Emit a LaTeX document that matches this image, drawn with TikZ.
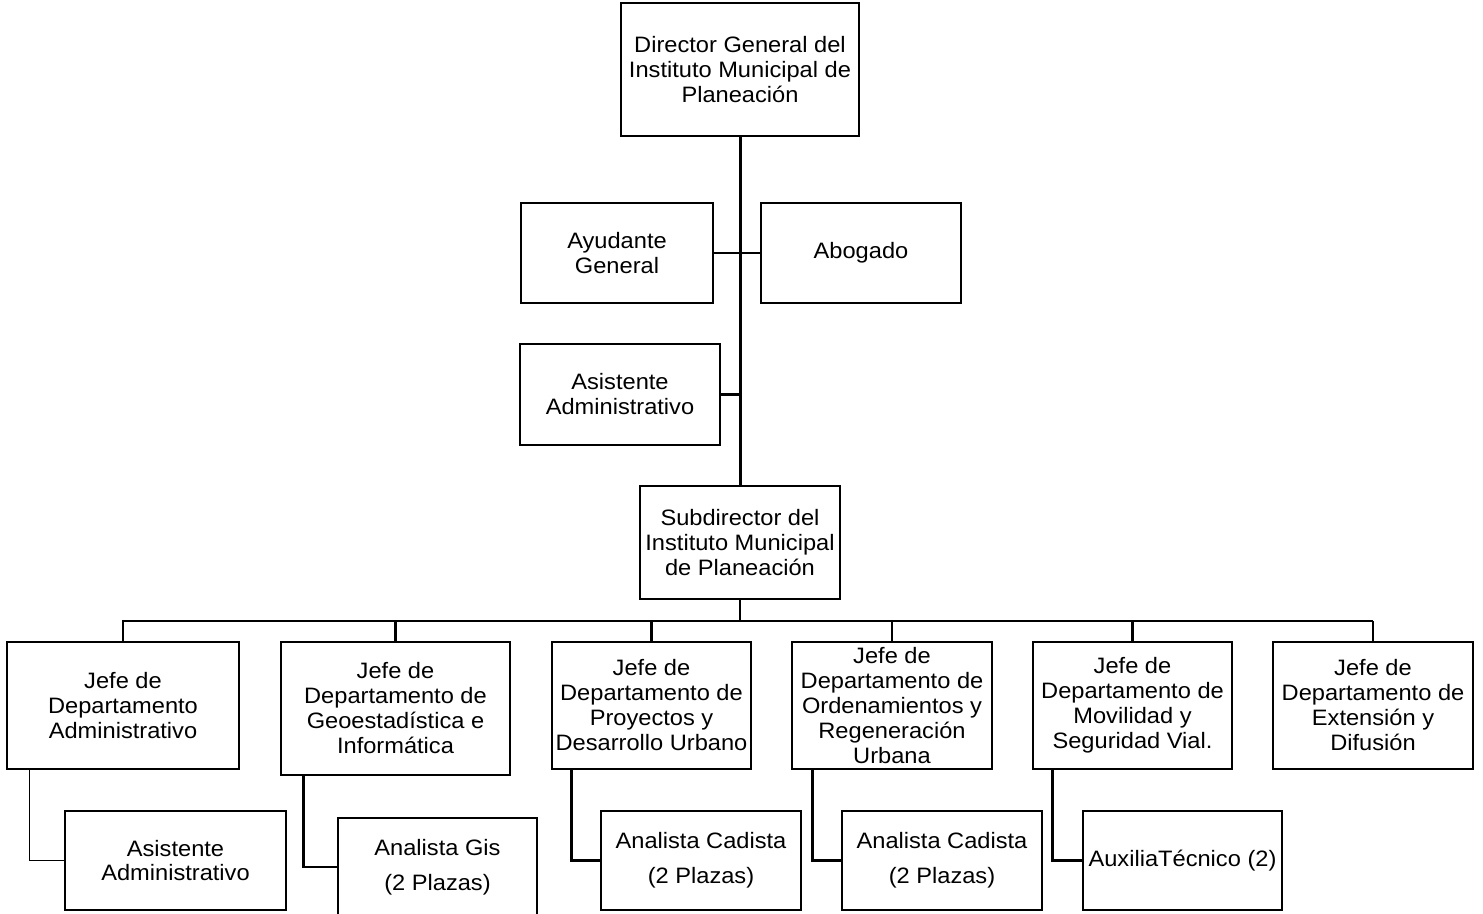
\documentclass[tikz,border=0pt]{standalone}
\usepackage{fontspec}
\setmainfont{Liberation Sans}[FakeStretch=1.06]
\newcommand\bx[7][]{\node[box,#1,minimum width={(#5-#3)*1pt},minimum height={(#6-#4)*1pt}] (#2) at ({(#3+#5)/2},{(#4+#6)/2}) {#7};}
\begin{document}
\begin{tikzpicture}[x=1pt,y=-1pt,
  box/.style={inner sep=0pt,align=center,font=\fontsize{22.3}{25}\selectfont},
  thickbox/.style={draw,line width=2.9pt},
  thinbox/.style={draw,line width=1.5pt},
  lowbox/.style={draw,line width=1.5pt,font=\fontsize{22.3}{35}\selectfont},
  thickline/.style={line width=2.7pt},
  thinline/.style={line width=1.5pt}]
\useasboundingbox (0,0) rectangle (1483,913);
% top level
\bx[thickbox]{dir}{621}{3}{859}{136}{Director General del\\Instituto Municipal de\\Planeación}
\bx[thickbox]{ay}{521}{203}{713}{303}{Ayudante\\General}
\bx[thickbox]{ab}{761}{203}{961}{303}{Abogado}
\bx[thickbox]{as}{520}{344}{720}{445}{Asistente\\Administrativo}
\bx[thinbox,line width=1.7pt]{sub}{640}{486}{840}{599}{Subdirector del\\Instituto Municipal\\de Planeación}
% departments
\bx[thinbox]{j1}{7}{642}{239}{769}{Jefe de\\Departamento\\Administrativo}
\bx[thinbox]{j2}{281}{642}{510}{775}{Jefe de\\Departamento de\\Geoestadística e\\Informática}
\bx[thinbox]{j3}{552}{642}{751}{769}{Jefe de\\Departamento de\\Proyectos y\\Desarrollo Urbano}
\bx[thinbox]{j4}{792}{642}{992}{769}{Jefe de\\Departamento de\\Ordenamientos y\\Regeneración\\Urbana}
\bx[thinbox]{j5}{1033}{642}{1232}{769}{Jefe de\\Departamento de\\Movilidad y\\Seguridad Vial.\rule{0pt}{0pt}}
\bx[thinbox]{j6}{1273}{642}{1473}{769}{Jefe de\\Departamento de\\Extensión y\\Difusión}
% lower boxes
\bx[lowbox,font=\fontsize{22.3}{24}\selectfont]{a1}{65}{811}{286}{910}{Asistente\\Administrativo}
\bx[lowbox]{a2}{338}{818}{537}{916}{Analista Gis\\(2 Plazas)}
\bx[lowbox]{a3}{601}{811}{801}{910}{Analista Cadista\\(2 Plazas)}
\bx[lowbox]{a4}{842}{811}{1042}{910}{Analista Cadista\\(2 Plazas)}
\bx[lowbox]{a5}{1083}{811}{1282}{910}{AuxiliaTécnico (2)}
% trunk
\draw[line width=3pt] (dir.south) -- (sub.north);
\draw[thickline] (ay.east) -- (ab.west);
\draw[thickline] (as.east) -- (as.east -| dir.south);
% bus
\coordinate (bus) at (740,621);
\draw[thickline] (sub.south) -- (bus);
\draw[thinline] (j1.north) |- (j2.north |- bus);
\draw[thickline] (j2.north |- bus) -- (j6.north |- bus);
\foreach \j in {j2,j3,j4,j5,j6}{\draw[thickline] (\j.north) -- (\j.north |- bus);}
% sub connectors
\draw[thinline] (a1.west) -| ([xshift=23pt]j1.south west);
\draw[thickline] (a2.west) -| ([xshift=23pt]j2.south west);
\draw[thickline] (a3.west) -| ([xshift=20pt]j3.south west);
\draw[thickline] (a4.west) -| ([xshift=21pt]j4.south west);
\draw[thickline] (a5.west) -| ([xshift=20pt]j5.south west);
\end{tikzpicture}
\end{document}
